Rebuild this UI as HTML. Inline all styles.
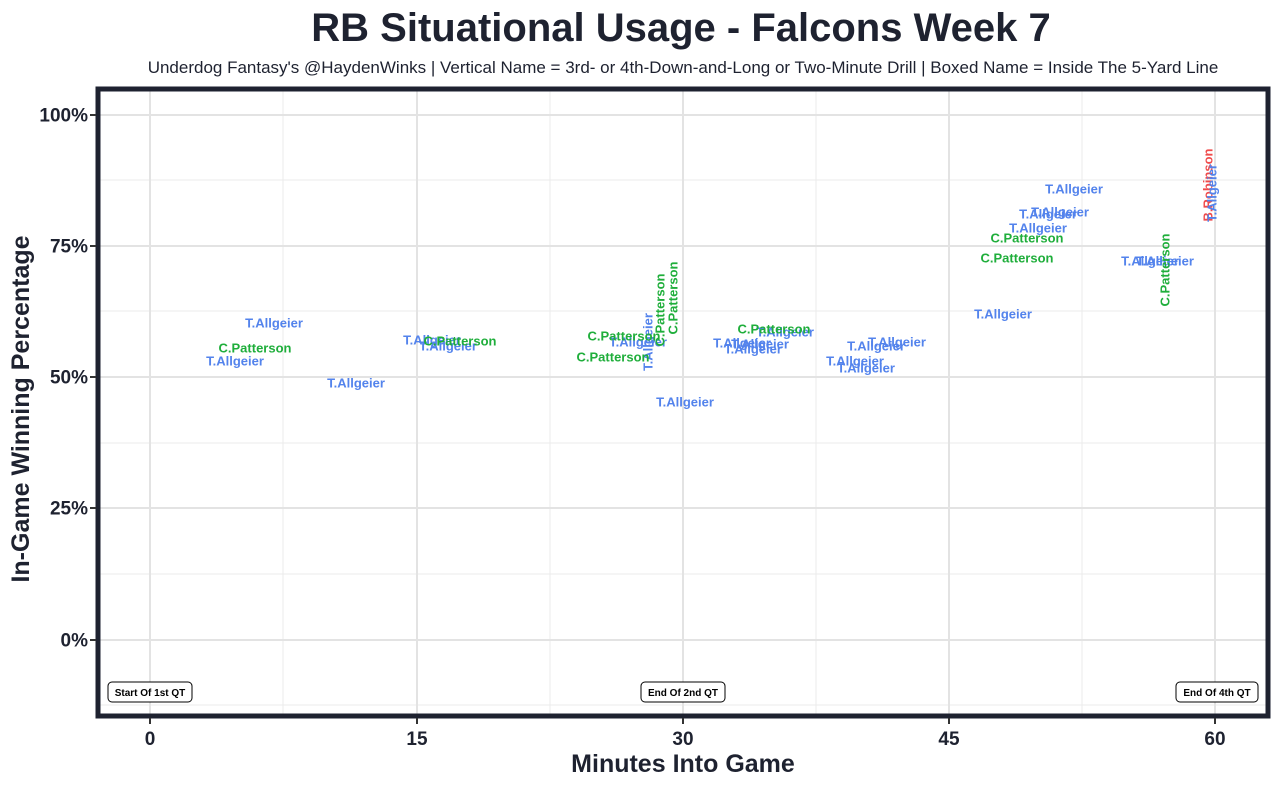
<!DOCTYPE html>
<html><head><meta charset="utf-8"><style>
body{margin:0;background:#fff;}
svg text{font-family:"Liberation Sans",sans-serif;}
</style></head><body>
<svg width="1280" height="786" viewBox="0 0 1280 786" xmlns="http://www.w3.org/2000/svg">
<rect width="1280" height="786" fill="#fff"/>
<text x="681" y="41" text-anchor="middle" font-size="40" font-weight="bold" fill="#1e2230">RB Situational Usage - Falcons Week 7</text>
<text x="683" y="73" text-anchor="middle" font-size="17" fill="#1e2230">Underdog Fantasy's @HaydenWinks | Vertical Name = 3rd- or 4th-Down-and-Long or Two-Minute Drill | Boxed Name = Inside The 5-Yard Line</text>
<g stroke="#ebebeb" stroke-width="1">
<line x1="283" y1="90" x2="283" y2="714"/><line x1="550" y1="90" x2="550" y2="714"/><line x1="816" y1="90" x2="816" y2="714"/><line x1="1082" y1="90" x2="1082" y2="714"/>
<line x1="98" y1="180" x2="1268" y2="180"/><line x1="98" y1="311" x2="1268" y2="311"/><line x1="98" y1="443" x2="1268" y2="443"/><line x1="98" y1="574" x2="1268" y2="574"/><line x1="98" y1="705" x2="1268" y2="705"/>
</g>
<g stroke="#e3e3e3" stroke-width="2">
<line x1="150" y1="90" x2="150" y2="714"/><line x1="417" y1="90" x2="417" y2="714"/><line x1="683" y1="90" x2="683" y2="714"/><line x1="949" y1="90" x2="949" y2="714"/><line x1="1215" y1="90" x2="1215" y2="714"/>
<line x1="98" y1="115" x2="1268" y2="115"/><line x1="98" y1="246" x2="1268" y2="246"/><line x1="98" y1="377" x2="1268" y2="377"/><line x1="98" y1="508" x2="1268" y2="508"/><line x1="98" y1="640" x2="1268" y2="640"/>
</g>
<rect x="98" y="89" width="1170" height="627" fill="none" stroke="#1e2230" stroke-width="5"/>
<g font-size="13" font-weight="bold" text-anchor="middle" dominant-baseline="central">
<g fill="#5383ec">
<text x="274" y="323">T.Allgeier</text><text x="235" y="361">T.Allgeier</text><text x="356" y="383">T.Allgeier</text>
<text x="432" y="340">T.Allgeier</text><text x="448" y="346">T.Allgeier</text><text x="638" y="342">T.Allgeier</text>
<text x="685" y="402">T.Allgeier</text><text x="785" y="332">T.Allgeier</text><text x="742" y="343">T.Allgeier</text>
<text x="760" y="344">T.Allgeier</text><text x="753" y="349">T.Allgeier</text><text x="855" y="361">T.Allgeier</text>
<text x="866" y="368">T.Allgeier</text><text x="876" y="346">T.Allgeier</text><text x="897" y="342">T.Allgeier</text>
<text x="1003" y="314">T.Allgeier</text><text x="1038" y="228">T.Allgeier</text><text x="1048" y="214">T.Allgeier</text>
<text x="1060" y="212">T.Allgeier</text><text x="1074" y="189">T.Allgeier</text><text x="1150" y="261">T.Allgeier</text>
<text x="1165" y="261">T.Allgeier</text>
<text transform="translate(648,342) rotate(-90)">T.Allgeier</text>
</g>
<g fill="#1fae3b">
<text x="255" y="348">C.Patterson</text><text x="460" y="341">C.Patterson</text><text x="624" y="336">C.Patterson</text>
<text x="613" y="357">C.Patterson</text><text x="774" y="329">C.Patterson</text><text x="1017" y="258">C.Patterson</text>
<text x="1027" y="238">C.Patterson</text>
<text transform="translate(660,310) rotate(-90)">C.Patterson</text>
<text transform="translate(673,298) rotate(-90)">C.Patterson</text>
<text transform="translate(1165,270) rotate(-90)">C.Patterson</text>
</g>
<text transform="translate(1208,185) rotate(-90)" fill="#f04b4b">B.Robinson</text>
<text transform="translate(1212,193) rotate(-90)" fill="#5383ec">T.Allgeier</text>
</g>
<g font-size="10" font-weight="bold" text-anchor="middle">
<rect x="108" y="682" width="84" height="20" rx="4" fill="#fff" stroke="#000"/><text x="150" y="696">Start Of 1st QT</text>
<rect x="641" y="682" width="84" height="20" rx="4" fill="#fff" stroke="#000"/><text x="683" y="696">End Of 2nd QT</text>
<rect x="1176" y="682" width="82" height="20" rx="4" fill="#fff" stroke="#000"/><text x="1217" y="696">End Of 4th QT</text>
</g>
<g stroke="#333" stroke-width="2">
<line x1="150" y1="718" x2="150" y2="724"/><line x1="417" y1="718" x2="417" y2="724"/><line x1="683" y1="718" x2="683" y2="724"/><line x1="949" y1="718" x2="949" y2="724"/><line x1="1215" y1="718" x2="1215" y2="724"/>
<line x1="90" y1="115" x2="96" y2="115"/><line x1="90" y1="246" x2="96" y2="246"/><line x1="90" y1="377" x2="96" y2="377"/><line x1="90" y1="508" x2="96" y2="508"/><line x1="90" y1="640" x2="96" y2="640"/>
</g>
<g font-size="19" font-weight="bold" fill="#1e2230">
<g text-anchor="middle"><text x="150" y="745">0</text><text x="417" y="745">15</text><text x="683" y="745">30</text><text x="949" y="745">45</text><text x="1215" y="745">60</text></g>
<g text-anchor="end" dominant-baseline="central"><text x="88" y="116">100%</text><text x="88" y="247">75%</text><text x="88" y="378">50%</text><text x="88" y="509">25%</text><text x="88" y="641">0%</text></g>
</g>
<text x="683" y="772" text-anchor="middle" font-size="25" font-weight="bold" fill="#1e2230">Minutes Into Game</text>
<text transform="translate(29,409) rotate(-90)" text-anchor="middle" font-size="25" font-weight="bold" fill="#1e2230">In-Game Winning Percentage</text>
</svg>
</body></html>
